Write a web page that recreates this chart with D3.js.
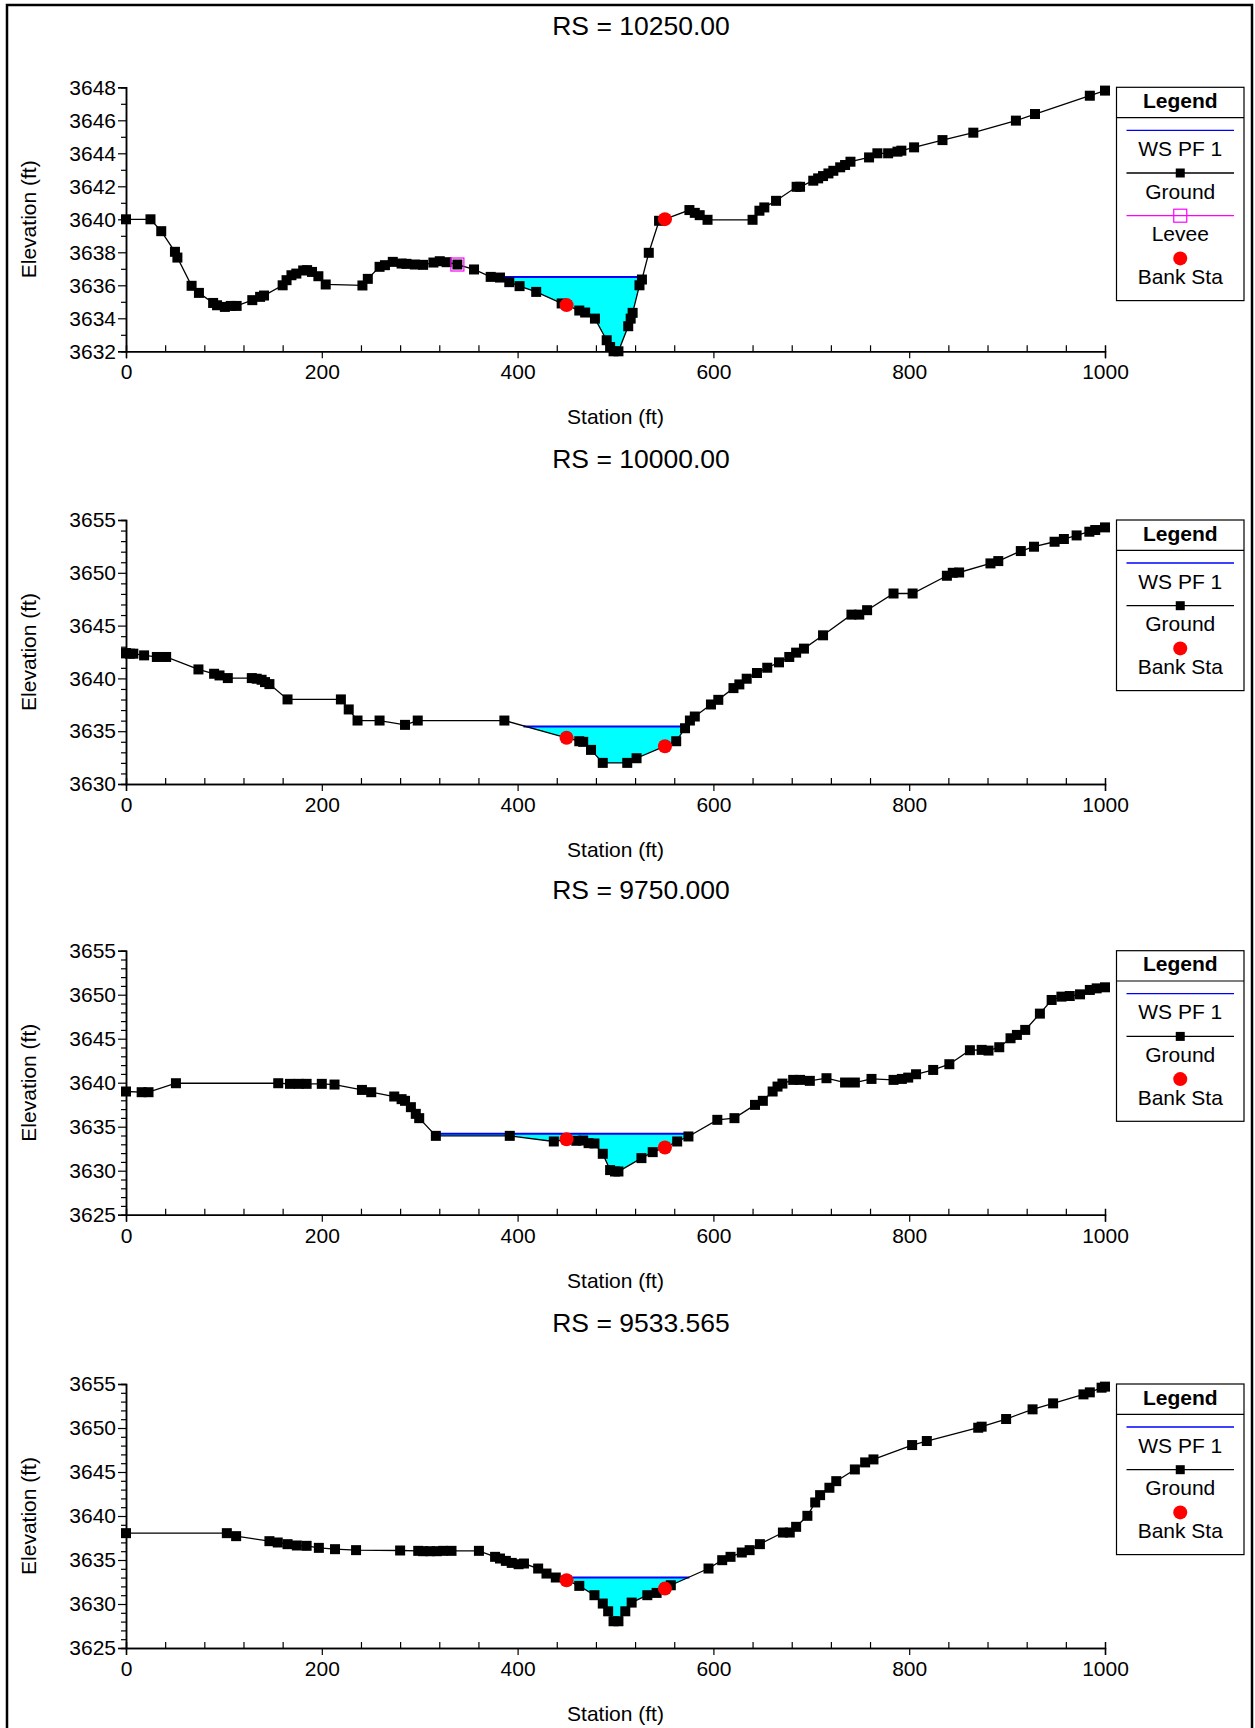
<!DOCTYPE html>
<html>
<head>
<meta charset="utf-8">
<script src="https://cdn.jsdelivr.net/npm/d3@7/dist/d3.min.js"></script>
<style>
  html, body { margin: 0; padding: 0; background: #fff; }
  svg { display: block; }
  text { font-family: "Liberation Sans", Arial, sans-serif; fill: #000; }
</style>
</head>
<body>
<svg id="chart" width="1255" height="1728"></svg>
<script>
// ---------------- DATA ----------------
const titles = ["RS = 10250.00", "RS = 10000.00", "RS = 9750.000", "RS = 9533.565"];
const xTickLabels = [0, 200, 400, 600, 800, 1000];

const yDomains = [[3632, 3648], [3630, 3655], [3625, 3655], [3625, 3655]];
const yMajorSteps = [2, 5, 5, 5];

const ground1 = [[0,3640],[25,3640],[36,3639.28],[50,3638.03],[52.5,3637.68],[67,3635.97],[74.5,3635.54],[89,3634.93],[93,3634.79],[101,3634.69],[107,3634.75],[113,3634.75],[129,3635.1],[137,3635.3],[141,3635.38],[160,3636],[164,3636.31],[169,3636.61],[174,3636.71],[181,3636.9],[185,3636.92],[190,3636.81],[196.5,3636.55],[204,3636.05],[241.5,3635.99],[247,3636.39],[259,3637.12],[264.5,3637.22],[272.5,3637.42],[281.5,3637.32],[286.5,3637.3],[295,3637.26],[303.5,3637.24],[314,3637.38],[320.5,3637.46],[327.5,3637.4],[338.5,3637.26],[355.5,3636.96],[372.5,3636.51],[382,3636.47],[391.5,3636.19],[402,3635.95],[419,3635.6],[445,3634.9],[450,3634.8],[463,3634.47],[469,3634.35],[479,3633.98],[491,3632.67],[494.5,3632.26],[498,3632],[503,3632],[513,3633.52],[515.5,3633.98],[517.5,3634.33],[524.5,3636.0],[527,3636.35],[534,3637.97],[544.5,3639.91],[550.5,3640.01],[575.5,3640.56],[581,3640.39],[586,3640.25],[594,3639.97],[640,3639.97],[647,3640.52],[652,3640.72],[664,3641.12],[685,3641.97],[688.5,3641.97],[702,3642.34],[707,3642.48],[712,3642.62],[717.5,3642.78],[722.5,3642.94],[729.5,3643.15],[734.5,3643.29],[740,3643.49],[759,3643.75],[767.5,3644],[778.5,3644],[788,3644.1],[792,3644.16],[805,3644.36],[834,3644.8],[865.5,3645.25],[909,3645.98],[928.5,3646.38],[984.5,3647.49],[1000,3647.8]];

const ground2 = [[0,3642.4],[4,3642.34],[7.5,3642.34],[18.5,3642.18],[31.5,3642.03],[41,3642.03],[74,3640.85],[90,3640.44],[95.5,3640.28],[104,3640.03],[128.5,3640.03],[133.5,3639.97],[138.5,3639.87],[142,3639.65],[146.5,3639.46],[165,3638.01],[219.5,3638.01],[227.5,3637.06],[236.5,3636.01],[259,3636.01],[285,3635.6],[298,3636.01],[386.5,3636.01],[450,3634.37],[463,3634.05],[467,3633.99],[475,3633.23],[487,3632],[512,3632],[521.5,3632.44],[550.5,3633.58],[562,3634.05],[571,3635.28],[576,3636.01],[581,3636.39],[597.5,3637.53],[605,3637.97],[620.5,3639.08],[626.5,3639.43],[634,3639.97],[644.5,3640.51],[655,3641.01],[667,3641.52],[677.5,3642.03],[684.5,3642.44],[692.5,3642.82],[712,3644.08],[741,3646.04],[749,3646.04],[757,3646.46],[784,3648.04],[803.5,3648.04],[838.5,3649.72],[844.5,3650],[851,3650.03],[883,3650.89],[891,3651.11],[914,3652.06],[927.5,3652.47],[948.5,3652.94],[958,3653.2],[971,3653.54],[984,3653.89],[990,3654.05],[1000,3654.3]];

const ground3 = [[0,3639],[16,3638.92],[23,3638.92],[51,3639.94],[155.5,3639.94],[167.5,3639.87],[176.5,3639.87],[184.5,3639.87],[200,3639.87],[213,3639.79],[241,3639.18],[250.5,3638.92],[274,3638.43],[281.5,3638.13],[285,3637.94],[291,3637.22],[296,3636.46],[299.5,3635.97],[316.5,3633.96],[392,3633.96],[437,3633.32],[450,3633.55],[460,3633.4],[467,3633.43],[472.5,3633.13],[478.5,3633.09],[487,3631.92],[494.5,3630.07],[499.5,3629.91],[503,3629.91],[526.5,3631.43],[538,3632.11],[550.5,3632.64],[563,3633.32],[574.5,3633.89],[604,3635.78],[621.5,3635.97],[642.5,3637.48],[650.5,3637.94],[660.5,3639],[665.5,3639.56],[670.5,3639.9],[681.5,3640.32],[688.5,3640.32],[698.5,3640.21],[715.5,3640.51],[734.5,3640.02],[744.5,3640.02],[761.5,3640.43],[784,3640.32],[792.5,3640.43],[799,3640.58],[807,3640.96],[824.5,3641.45],[841,3642.1],[862,3643.69],[874,3643.73],[881,3643.65],[892,3644.03],[903.5,3645.05],[910,3645.43],[918.5,3646],[933.5,3647.85],[945.5,3649.4],[955.5,3649.78],[964,3649.85],[974.5,3650.04],[984.5,3650.54],[991.5,3650.72],[1000,3650.84]];

const ground4 = [[0,3638.05],[103,3638.05],[112.5,3637.71],[146.5,3637.14],[155,3636.99],[165,3636.8],[174.5,3636.65],[184.5,3636.61],[197,3636.38],[213.5,3636.23],[235,3636.12],[280,3636.08],[298.5,3636.04],[303.5,3636],[310.5,3636],[317.5,3636],[324,3636.04],[332.5,3636.04],[360.5,3636.04],[377,3635.36],[382,3635.17],[388,3634.9],[394,3634.67],[401,3634.52],[406.5,3634.6],[421,3634.03],[429.5,3633.46],[439,3633.01],[450,3632.7],[463,3632.06],[478.5,3631],[487,3630.05],[492.5,3629.17],[498,3628.04],[503,3628.04],[510,3629.17],[516.5,3630.16],[532.5,3631],[542,3631.26],[550.5,3631.75],[556.5,3632.13],[595,3634.03],[609,3634.98],[617.5,3635.36],[629,3635.85],[637,3636.12],[647.5,3636.8],[671,3638.12],[678,3638.12],[684.5,3638.77],[696,3640.02],[704,3641.54],[709,3642.37],[718.5,3643.21],[725.5,3643.96],[744.5,3645.29],[755,3646.09],[763.5,3646.43],[803,3648.06],[818,3648.52],[870.5,3650.03],[874,3650.15],[899,3651.02],[926,3652.12],[947,3652.8],[978,3653.82],[984.5,3654.05],[996.5,3654.58],[1000,3654.7]];

const grounds = [ground1, ground2, ground3, ground4];

// water surface (WS PF 1): elevation and wetted extent [left, right] station
const wsElev = [3636.5, 3635.44, 3634.19, 3633.0];
const wsExtent = [[372.5, 528.5], [406, 573.5], [314, 579.5], [440, 575.5]];

// bank stations [station, elevation]
const bankSta = [
  [[450, 3634.8], [550.5, 3640.01]],
  [[450, 3634.37], [550.5, 3633.58]],
  [[450, 3633.58], [550.5, 3632.64]],
  [[450, 3632.7], [550.5, 3631.75]]
];

// levee (only first section)
const levees = [[[338.5, 3637.26]], [], [], []];

const legendItems = [
  ["WS PF 1", "Ground", "Levee", "Bank Sta"],
  ["WS PF 1", "Ground", "Bank Sta"],
  ["WS PF 1", "Ground", "Bank Sta"],
  ["WS PF 1", "Ground", "Bank Sta"]
];

// ---------------- LAYOUT ----------------
const svg = d3.select("#chart");
const X0 = 126, X1 = 1105;
const plotTops = [87.3, 520, 950.7, 1384];
const PH = 264;
const FONT = 21;
const MS = 10; // ground marker size

// outer frame
svg.append("rect").attr("x", 7).attr("y", 5).attr("width", 1245).attr("height", 1740)
  .attr("fill", "none").attr("stroke", "#000").attr("stroke-width", 2.5);

const x = d3.scaleLinear().domain([0, 1000]).range([X0, X1]);

function groundAt(g, s) {
  const i = d3.bisector(d => d[0]).left(g, s);
  if (i <= 0) return g[0][1];
  if (i >= g.length) return g[g.length - 1][1];
  const a = g[i - 1], b = g[i];
  const t = (s - a[0]) / (b[0] - a[0]);
  return a[1] + t * (b[1] - a[1]);
}

titles.forEach((title, k) => {
  const top = plotTops[k];
  const g = svg.append("g");
  const y = d3.scaleLinear().domain(yDomains[k]).range([top + PH, top]);
  const ground = grounds[k];

  // title
  g.append("text").attr("x", 641).attr("y", top - 52)
    .attr("text-anchor", "middle").style("font-size", "26.5px").text(title);

  // water fill
  const ws = wsElev[k];
  const [l, r] = wsExtent[k];
  const bottom = [[l, Math.min(ws, groundAt(ground, l))]];
  ground.forEach(p => { if (p[0] > l && p[0] < r) bottom.push([p[0], Math.min(ws, p[1])]); });
  bottom.push([r, Math.min(ws, groundAt(ground, r))]);
  g.append("path")
    .datum(bottom)
    .attr("d", d3.area().x(d => x(d[0])).y0(y(ws)).y1(d => y(d[1])))
    .attr("fill", "#00FFFF").attr("stroke", "none");

  // WS line
  g.append("line").attr("x1", x(l)).attr("x2", x(r)).attr("y1", y(ws)).attr("y2", y(ws))
    .attr("stroke", "#0000FF").attr("stroke-width", 2);

  // axes
  const [ymin, ymax] = yDomains[k];
  const majors = d3.range(ymin, ymax + 0.001, yMajorSteps[k]);
  const minors = d3.range(ymin, ymax + 0.001, 1).filter(v => !majors.includes(v));
  const yAxisMinor = g.append("g").attr("transform", `translate(${X0},0)`)
    .call(d3.axisLeft(y).tickValues(minors).tickSize(5).tickFormat(""));
  const yAxis = g.append("g").attr("transform", `translate(${X0},0)`)
    .call(d3.axisLeft(y).tickValues(majors).tickSize(8).tickPadding(2).tickFormat(d3.format("d")));
  [yAxis, yAxisMinor].forEach(a => {
    a.select(".domain").attr("stroke", "#000").attr("stroke-width", 1.5);
    a.selectAll(".tick line").attr("stroke", "#000").attr("stroke-width", 1.2);
    a.selectAll("text").style("font-size", FONT + "px").style("font-family", '"Liberation Sans", Arial, sans-serif').attr("fill", "#000");
  });

  const xMinors = d3.range(0, 1001, 40).filter(v => !xTickLabels.includes(v));
  const xAxisMinor = g.append("g").attr("transform", `translate(0,${top + PH})`)
    .call(d3.axisBottom(x).tickValues(xMinors).tickSize(-6).tickFormat(""));
  const xAxis = g.append("g").attr("transform", `translate(0,${top + PH})`)
    .call(d3.axisBottom(x).tickValues(xTickLabels).tickSize(7).tickPadding(6).tickFormat(d3.format("d")));
  [xAxis, xAxisMinor].forEach(a => {
    a.select(".domain").attr("stroke", "#000").attr("stroke-width", 1.5);
    a.selectAll(".tick line").attr("stroke", "#000").attr("stroke-width", 1.2);
    a.selectAll("text").style("font-size", FONT + "px").style("font-family", '"Liberation Sans", Arial, sans-serif').attr("fill", "#000");
  });

  // axis titles
  g.append("text").attr("x", (X0 + X1) / 2).attr("y", top + PH + 73)
    .attr("text-anchor", "middle").style("font-size", FONT + "px").text("Station (ft)");
  g.append("text")
    .attr("transform", `translate(36,${top + PH / 2}) rotate(-90)`)
    .attr("text-anchor", "middle").style("font-size", FONT + "px").text("Elevation (ft)");

  // ground line + markers
  g.append("path").datum(ground)
    .attr("d", d3.line().x(d => x(d[0])).y(d => y(d[1])))
    .attr("fill", "none").attr("stroke", "#000").attr("stroke-width", 1.3);
  g.selectAll("rect.gpt").data(ground).enter().append("rect")
    .attr("class", "gpt")
    .attr("x", d => x(d[0]) - MS / 2).attr("y", d => y(d[1]) - MS / 2)
    .attr("width", MS).attr("height", MS).attr("fill", "#000");

  // levee
  g.selectAll("rect.lev").data(levees[k]).enter().append("rect")
    .attr("class", "lev")
    .attr("x", d => x(d[0]) - 6.5).attr("y", d => y(d[1]) - 6.5)
    .attr("width", 13).attr("height", 13)
    .attr("fill", "none").attr("stroke", "#FF00FF").attr("stroke-width", 1.2);

  // bank stations
  g.selectAll("circle.bank").data(bankSta[k]).enter().append("circle")
    .attr("class", "bank")
    .attr("cx", d => x(d[0])).attr("cy", d => y(d[1])).attr("r", 7)
    .attr("fill", "#FF0000");

  // legend
  const items = legendItems[k];
  const LX = 1116.5, LW = 127.5, LC = LX + LW / 2;
  const lh = 30 + items.length * 42.7 + 12.5;
  const lg = g.append("g");
  lg.append("rect").attr("x", LX).attr("y", top).attr("width", LW).attr("height", lh)
    .attr("fill", "#fff").attr("stroke", "#000").attr("stroke-width", 1.2);
  lg.append("line").attr("x1", LX).attr("x2", LX + LW).attr("y1", top + 30.3).attr("y2", top + 30.3)
    .attr("stroke", "#000").attr("stroke-width", 1.2);
  lg.append("text").attr("x", LC).attr("y", top + 20.5).attr("text-anchor", "middle")
    .style("font-size", FONT + "px").style("font-weight", "bold").text("Legend");
  items.forEach((name, i) => {
    const ly = top + 43 + i * 42.7;
    if (name === "WS PF 1") {
      lg.append("line").attr("x1", LX + 10).attr("x2", LX + LW - 10).attr("y1", ly).attr("y2", ly)
        .attr("stroke", "#0000FF").attr("stroke-width", 1.3);
    } else if (name === "Ground") {
      lg.append("line").attr("x1", LX + 10).attr("x2", LX + LW - 10).attr("y1", ly).attr("y2", ly)
        .attr("stroke", "#000").attr("stroke-width", 1.3);
      lg.append("rect").attr("x", LC - 4.5).attr("y", ly - 4.5).attr("width", 9).attr("height", 9).attr("fill", "#000");
    } else if (name === "Levee") {
      lg.append("line").attr("x1", LX + 10).attr("x2", LX + LW - 10).attr("y1", ly).attr("y2", ly)
        .attr("stroke", "#FF00FF").attr("stroke-width", 1.2);
      lg.append("rect").attr("x", LC - 6.5).attr("y", ly - 6.5).attr("width", 13).attr("height", 13)
        .attr("fill", "none").attr("stroke", "#FF00FF").attr("stroke-width", 1.2);
    } else if (name === "Bank Sta") {
      lg.append("circle").attr("cx", LC).attr("cy", ly).attr("r", 7).attr("fill", "#FF0000");
    }
    lg.append("text").attr("x", LC).attr("y", ly + 25.5).attr("text-anchor", "middle")
      .style("font-size", FONT + "px").text(name);
  });
});
</script>
</body>
</html>
